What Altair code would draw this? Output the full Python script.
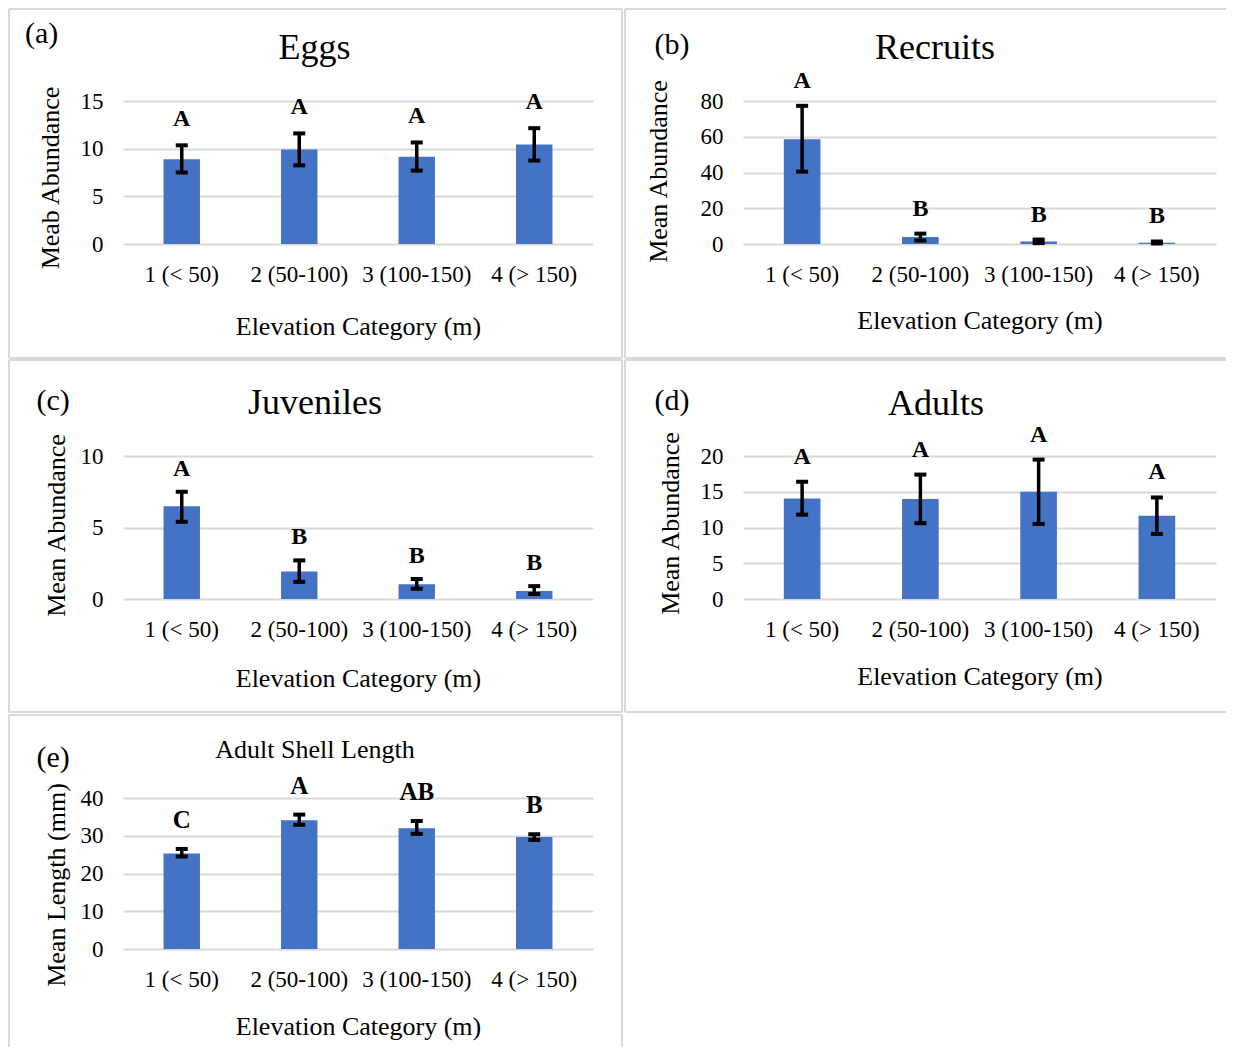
import altair as alt
import pandas as pd

FONT = "Liberation Serif"
BLUE = "#4472C4"
GRID = "#d9d9d9"

categories = ["1 (< 50)", "2 (50-100)", "3 (100-150)", "4 (> 150)"]

eggs_mean = [8.9, 9.9, 9.15, 10.45]
eggs_lo = [7.5, 8.25, 7.7, 8.75]
eggs_hi = [10.35, 11.6, 10.65, 12.15]
eggs_letters = ["A", "A", "A", "A"]

recruits_mean = [58.6, 3.9, 1.4, 0.7]
recruits_lo = [40.5, 1.9, 0.5, 0.3]
recruits_hi = [77.3, 5.8, 2.5, 1.4]
recruits_letters = ["A", "B", "B", "B"]

juv_mean = [6.48, 1.92, 1.04, 0.56]
juv_lo = [5.4, 1.2, 0.72, 0.35]
juv_hi = [7.5, 2.7, 1.4, 0.9]
juv_letters = ["A", "B", "B", "B"]

adult_mean = [14.07, 13.97, 14.99, 11.65]
adult_lo = [11.8, 10.6, 10.5, 9.1]
adult_hi = [16.4, 17.4, 19.5, 14.2]
adult_letters = ["A", "A", "A", "A"]

shell_mean = [25.3, 34.1, 32.0, 29.7]
shell_lo = [24.5, 32.9, 30.5, 28.9]
shell_hi = [26.5, 35.6, 33.9, 30.4]
shell_letters = ["C", "A", "AB", "B"]


def one():
    return alt.Data(values=[{"k": 1}])


def hrule(x1, x2, y):
    return alt.Chart(one()).mark_rule(color=GRID, strokeWidth=2).encode(
        x=alt.value(x1), x2=alt.value(x2), y=alt.value(y))


def vrule(x, y1, y2):
    return alt.Chart(one()).mark_rule(color=GRID, strokeWidth=2).encode(
        x=alt.value(x), y=alt.value(y1), y2=alt.value(y2))


def label(text, x, y, size, align="left", weight="normal"):
    return alt.Chart(one()).mark_text(
        text=text, font=FONT, fontSize=size, align=align, baseline="alphabetic",
        color="black", fontWeight=weight).encode(x=alt.value(x), y=alt.value(y))


def panel(mean, lo, hi, letters, *, width, height, domain, ticks, ytitle,
          ytx, yty, xty, tag, tag_xy, title, title_xy, title_size, letter_size,
          letter_dy, borders, yrange=None):
    df = pd.DataFrame({"cat": categories, "mean": mean, "lo": lo, "hi": hi,
                       "letter": letters})
    if yrange is not None:
        yscale = alt.Scale(domain=domain, nice=False, zero=True, range=yrange)
    else:
        yscale = alt.Scale(domain=domain, nice=False, zero=True)
    xaxis = alt.Axis(title="Elevation Category (m)", labelAngle=0, labelPadding=19,
                     domain=False, ticks=False, grid=False, labelFontSize=23,
                     titleFontSize=26, titleY=xty, titleBaseline="alphabetic",
                     titleFontWeight="normal", labelFont=FONT, titleFont=FONT,
                     labelColor="black", titleColor="black")
    yaxis = alt.Axis(title=ytitle, values=ticks, domain=False, ticks=False, grid=True,
                     gridColor=GRID, gridWidth=2, labelPadding=20, labelFontSize=23,
                     titleFontSize=26, titleX=ytx, titleY=yty, titleAngle=270,
                     titleAlign="center", titleBaseline="alphabetic",
                     titleFontWeight="normal", labelFont=FONT, titleFont=FONT,
                     labelColor="black", titleColor="black")
    X = alt.X("cat:N", sort=categories,
              scale=alt.Scale(paddingInner=0.69, paddingOuter=0.345), axis=xaxis)
    base = alt.Chart(df)
    bars = base.mark_bar(color=BLUE).encode(
        x=X, y=alt.Y("mean:Q", scale=yscale, axis=yaxis))
    err = base.mark_rule(color="black", strokeWidth=3.5).encode(
        x=X, y=alt.Y("lo:Q", scale=yscale, axis=yaxis), y2="hi:Q")
    cap_hi = base.mark_tick(orient="horizontal", size=12, thickness=4,
                            color="black", opacity=1).encode(
        x=X, y=alt.Y("hi:Q", scale=yscale, axis=yaxis))
    cap_lo = base.mark_tick(orient="horizontal", size=12, thickness=4,
                            color="black", opacity=1).encode(
        x=X, y=alt.Y("lo:Q", scale=yscale, axis=yaxis))
    lets = base.mark_text(font=FONT, fontSize=letter_size, fontWeight="bold",
                          baseline="alphabetic", dy=letter_dy, color="black").encode(
        x=X, y=alt.Y("hi:Q", scale=yscale, axis=yaxis), text="letter:N")
    layers = [bars, err, cap_hi, cap_lo, lets,
              label(tag, tag_xy[0], tag_xy[1], 30),
              label(title, title_xy[0], title_xy[1], title_size, align="center")]
    layers += borders
    return alt.layer(*layers).properties(width=width, height=height)


# panel (a): plot origin at page (123, 101)
pa = panel(eggs_mean, eggs_lo, eggs_hi, eggs_letters, width=470, height=143,
           domain=[0, 15], ticks=[0, 5, 10, 15], ytitle="Meab Abundance",
           ytx=-65, yty=76.5, xty=90, tag="(a)", tag_xy=(-98, -58),
           title="Eggs", title_xy=(191.5, -42), title_size=36, letter_size=24,
           letter_dy=-19,
           borders=[hrule(-114, 499, -92), hrule(-114, 499, 257),
                    vrule(-114, -92, 257), vrule(499, -92, 257)])

# panel (b): plot origin at page (743, 101)
pb = panel(recruits_mean, recruits_lo, recruits_hi, recruits_letters, width=473,
           height=143, domain=[0, 80], ticks=[0, 20, 40, 60, 80],
           ytitle="Mean Abundance", ytx=-77, yty=70, xty=84, tag="(b)",
           tag_xy=(-88.5, -47), title="Recruits", title_xy=(192, -42.5),
           title_size=36, letter_size=24, letter_dy=-18,
           borders=[hrule(-118, 483, -92), hrule(-118, 483, 257),
                    vrule(-118, -92, 257)])

# panel (c): plot origin at page (123, 456)
pc = panel(juv_mean, juv_lo, juv_hi, juv_letters, width=470, height=143,
           domain=[0, 10], ticks=[0, 5, 10], ytitle="Mean Abundance",
           ytx=-59, yty=69, xty=87, tag="(c)", tag_xy=(-86.5, -46),
           title="Juveniles", title_xy=(192, -41.7), title_size=36, letter_size=24,
           letter_dy=-16,
           borders=[hrule(-114, 499, -96), hrule(-114, 499, 256),
                    vrule(-114, -96, 256), vrule(499, -96, 256)])

# panel (d): plot origin at page (743, 456)
pd_ = panel(adult_mean, adult_lo, adult_hi, adult_letters, width=473, height=143,
            domain=[0, 20], ticks=[0, 5, 10, 15, 20], ytitle="Mean Abundance",
            ytx=-65, yty=67, xty=85, tag="(d)", tag_xy=(-88.5, -46),
            title="Adults", title_xy=(193, -41), title_size=36, letter_size=24,
            letter_dy=-18,
            borders=[hrule(-118, 483, -96), hrule(-118, 483, 256),
                     vrule(-118, -96, 256)])

# panel (e): cell origin at page (123, 811), plot drawn from 798 to 949
pe = panel(shell_mean, shell_lo, shell_hi, shell_letters, width=470, height=138,
           domain=[0, 40], ticks=[0, 10, 20, 30, 40], ytitle="Mean Length (mm)",
           ytx=-59, yty=73.5, xty=85, tag="(e)", tag_xy=(-86.5, -44),
           title="Adult Shell Length", title_xy=(192, -52.7), title_size=26,
           letter_size=25, letter_dy=-21, yrange=[138, -13],
           borders=[hrule(-114, 499, -96), vrule(-114, -96, 236),
                    vrule(499, -96, 236)])

chart = alt.concat(pa, pb, pc, pd_, pe, columns=2,
                   spacing={"row": 212, "column": 150}, bounds="flush").properties(
    padding=0, background="white"
).configure_view(stroke=None)

chart.save("out.html", embed_options={"renderer": "svg", "actions": False})
